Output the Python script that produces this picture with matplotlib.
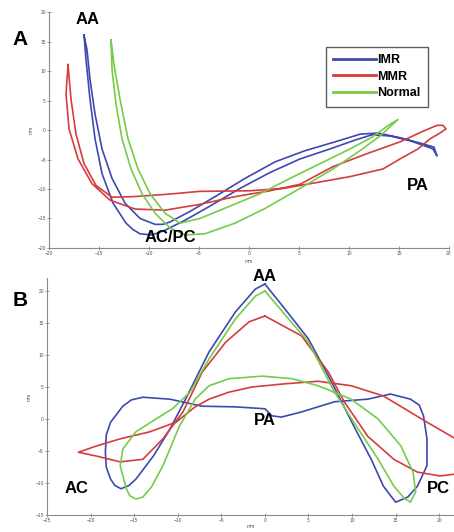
import matplotlib
matplotlib.use('Agg')
import matplotlib.pyplot as plt
import numpy as np

plt.rcParams['font.family'] = ['Liberation Sans', 'DejaVu Sans']

# panel A : annulus profile, IMR / MMR / Normal (mm)
imr_a_x = [-16.5, -16.3, -15.9, -15.4, -14.7, -13.6, -12.3, -11.6, -10.9, -9.7, -8.4, -6.4, -3.9, -0.9, 2.1, 5.1,
           8.1, 10.6, 12.3, 14.1, 16.1, 17.6, 18.4, 18.8, 18.5, 17.1, 15.1, 12.9, 11.1, 8.6, 5.6, 2.6,
           -0.4, -3.4, -5.9, -7.9, -8.6, -9.4, -10.9, -12.4, -13.7, -14.7, -15.4, -15.9, -16.2]
imr_a_y = [16.1, 11.9, 5.2, -1.5, -7.4, -12.4, -15.8, -16.9, -17.6, -17.8, -17.0, -15.3, -12.9, -9.9, -7.2, -4.9,
           -3.2, -1.7, -0.8, -1.0, -1.8, -2.7, -3.2, -4.4, -2.9, -2.2, -1.3, -0.5, -0.7, -2.0, -3.5, -5.4,
           -8.2, -11.3, -13.8, -15.6, -16.0, -16.0, -15.0, -12.4, -8.2, -3.2, 2.7, 8.6, 13.6]

mmr_a_x = [-18.1, -18.3, -18.0, -17.1, -15.7, -13.9, -11.4, -8.4, -4.9, -1.4, 2.1, 5.1, 8.4, 11.8, 15.1,
           17.4, 18.8, 19.4, 19.7, 19.1, 18.1, 16.9, 15.1, 13.4, 10.1, 6.8, 3.4, 0.1, -4.9, -8.2, -11.6,
           -13.7, -15.3, -16.5, -17.3, -17.8]
mmr_a_y = [11.1, 6.1, 0.2, -4.9, -9.1, -11.9, -13.4, -13.6, -12.6, -11.3, -10.3, -9.2, -6.2, -4.0, -2.0,
           -0.2, 0.8, 0.8, 0.2, -0.5, -1.5, -3.2, -4.9, -6.6, -7.9, -8.9, -9.9, -10.3, -10.4, -10.9, -11.3,
           -11.4, -9.4, -5.7, -0.7, 5.2]

nor_a_x = [-13.8, -13.7, -13.3, -12.7, -11.8, -10.7, -9.4, -7.9, -6.4, -4.4, -1.4, 1.6, 5.1, 8.4, 11.1,
           13.1, 14.9, 14.1, 12.3, 10.1, 7.1, 4.1, 1.1, -1.9, -4.9, -6.9, -8.4, -9.9, -11.1, -12.1, -12.9,
           -13.5]
nor_a_y = [15.3, 10.3, 4.4, -1.5, -6.6, -10.8, -14.1, -16.6, -17.8, -17.6, -15.8, -13.3, -9.9, -6.6, -3.5,
           -1.0, 1.8, 1.0, -1.2, -3.2, -5.7, -8.2, -10.8, -12.9, -15.0, -15.8, -14.1, -10.8, -6.6, -1.5, 5.2,
           11.1]

# panel B : intercommissural profile
imr_b_x = [0.0, 2.3, 5.0, 7.3, 8.8, 10.2, 12.2, 13.6, 15.0, 16.4, 17.5, 18.6, 18.6, 18.2, 17.7, 16.7, 14.4,
           11.8, 8.0, 4.2, 1.9, 0.8, 0.0, -3.4, -7.2, -10.9, -14.0, -15.3, -16.3, -17.7, -18.2, -18.3, -18.2,
           -17.7, -17.2, -16.5, -15.6, -14.8, -12.8, -10.9, -9.1, -6.4, -3.4, -1.1]
imr_b_y = [21.1, 17.2, 12.5, 6.7, 2.7, -1.1, -6.3, -10.5, -13.0, -12.2, -10.5, -7.3, -3.1, 0.5, 2.2, 3.1, 3.9,
           3.1, 2.7, 1.1, 0.3, 0.5, 1.6, 1.9, 2.0, 3.1, 3.4, 3.0, 2.0, -0.5, -2.5, -5.2, -7.5,
           -9.4, -10.4, -10.9, -10.4, -9.4, -5.8, -1.6, 3.1, 10.5, 16.7, 20.3]

mmr_b_x = [0.0, 4.2, 7.3, 9.1, 11.8, 14.8, 17.5, 20.1, 21.9, 23.0, 21.9, 18.6, 13.6, 9.9, 6.1, 2.3,
           -1.5, -4.1, -6.4, -8.0, -10.2, -13.2, -16.6, -19.3, -21.4, -19.3, -16.6, -14.0, -11.7, -9.4,
           -7.2, -4.5, -1.8]
mmr_b_y = [16.1, 13.0, 7.3, 2.7, -2.7, -6.3, -8.3, -8.9, -8.6, -6.0, -3.1, -0.5, 3.6, 5.2, 5.9, 5.5,
           5.0, 4.2, 3.1, 1.9, -0.5, -2.0, -3.1, -4.2, -5.2, -5.8, -6.7, -6.3, -3.1, 1.1,
           7.3, 12.0, 15.2]

nor_b_x = [0.0, 5.0, 8.0, 10.2, 13.0, 14.8, 16.0, 16.7, 17.3, 17.0, 15.6, 13.0, 9.9, 6.1, 3.1, -0.3, -4.1,
           -6.4, -8.0, -9.8, -11.7, -13.0, -14.0, -14.8, -15.5, -15.9, -16.6, -16.3, -14.8, -12.5, -10.6, -8.6,
           -6.4, -3.4, -1.1]
nor_b_y = [20.0, 12.0, 4.2, -0.5, -6.3, -10.5, -12.4, -13.0, -11.4, -8.3, -4.2, 0.0, 3.1, 5.2, 6.3, 6.7, 6.3,
           5.2, 3.1, -1.1, -7.3, -10.6, -12.2, -12.5, -12.0, -10.9, -7.3, -4.7, -2.0, 0.0, 1.6, 4.2,
           9.4, 15.6, 19.2]

labels = ['IMR', 'MMR', 'Normal']
colors = ['#3d48b0', '#d63c3c', '#74cc48']
ticks_a = [-20, -15, -10, -5, 0, 5, 10, 15, 20]
ticks_b_x = [-25, -20, -15, -10, -5, 0, 5, 10, 15, 20]
ticks_b_y = [-15, -10, -5, 0, 5, 10, 15, 20]


def closed(x, y):
    return np.append(x, x[0]), np.append(y, y[0])


def style(ax):
    for s in ['top', 'right']:
        ax.spines[s].set_visible(False)
    for s in ['left', 'bottom']:
        ax.spines[s].set_color('#8a8a8a')
        ax.spines[s].set_linewidth(0.8)
    ax.tick_params(direction='inout', length=2.5, width=0.6, colors='#8a8a8a',
                   labelsize=3.5, labelcolor='#555555', pad=1)


fig = plt.figure(figsize=(4.54, 5.32), dpi=100)

axA = fig.add_axes([0.108, 0.534, 0.881, 0.443])
axB = fig.add_axes([0.1035, 0.032, 0.8965, 0.445])

for (x, y), c, lab in zip([(imr_a_x, imr_a_y), (mmr_a_x, mmr_a_y), (nor_a_x, nor_a_y)], colors, labels):
    xx, yy = closed(x, y)
    axA.plot(xx, yy, color=c, lw=1.2, label=lab, solid_joinstyle='round')

for (x, y), c in zip([(imr_b_x, imr_b_y), (mmr_b_x, mmr_b_y), (nor_b_x, nor_b_y)], colors):
    xx, yy = closed(x, y)
    axB.plot(xx, yy, color=c, lw=1.2, solid_joinstyle='round')

axA.set_xlim(-20, 20)
axA.set_ylim(-20, 20)
axA.set_xticks(ticks_a)
axA.set_yticks(ticks_a)
axB.set_xlim(-25, 21.7)
axB.set_ylim(-15, 22)
axB.set_xticks(ticks_b_x)
axB.set_yticks(ticks_b_y)
style(axA)
style(axB)

axA.set_ylabel('mm', fontsize=3.5, color='#555555', labelpad=3)
axA.set_xlabel('mm', fontsize=3.5, color='#555555', labelpad=2)
axB.set_ylabel('mm', fontsize=3.5, color='#555555', labelpad=3)
axB.set_xlabel('mm', fontsize=3.5, color='#555555', labelpad=1)

leg = axA.legend(loc='upper right', bbox_to_anchor=(0.962, 0.88), frameon=True, fancybox=False,
                 handlelength=3.4, handletextpad=0.1, borderpad=0.6, labelspacing=0.35,
                 prop={'weight': 'bold', 'size': 9})
leg.get_frame().set_edgecolor('#333333')
leg.get_frame().set_linewidth(1.0)
for line in leg.get_lines():
    line.set_linewidth(2.0)

tkw = dict(fontsize=12, fontweight='bold', ha='center', va='center', clip_on=False)
axA.text(-16.1, 18.7, 'AA', **tkw)
axA.text(-7.9, -18.3, 'AC/PC', **tkw)
axA.text(16.9, -9.4, 'PA', **tkw)
axB.text(0.0, 22.2, 'AA', **tkw)
axB.text(0.0, -0.3, 'PA', **tkw)
axB.text(-21.6, -10.9, 'AC', **tkw)
axB.text(19.9, -10.9, 'PC', **tkw)

fig.text(0.045, 0.925, 'A', fontsize=15, fontweight='bold', ha='center', va='center')
fig.text(0.045, 0.435, 'B', fontsize=15, fontweight='bold', ha='center', va='center')

fig.savefig('out.png', dpi=100)
